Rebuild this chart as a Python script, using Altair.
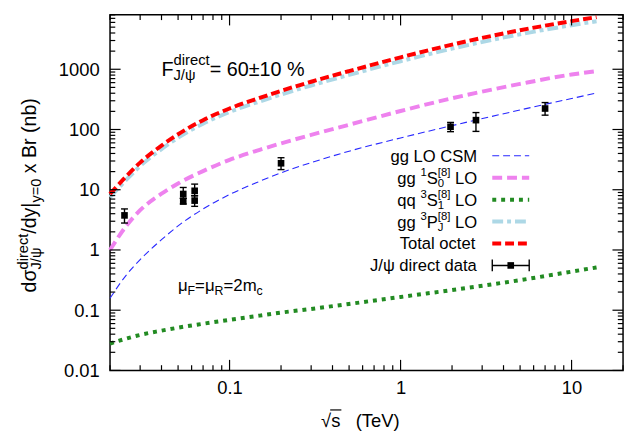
import altair as alt
import pandas as pd

FONT = "Liberation Sans"
W_PLOT = 519.4
H_PLOT = 360.0

# ---------------- data ----------------
x_grid = [0.02, 0.025, 0.03, 0.04, 0.05, 0.07, 0.1, 0.15, 0.2, 0.3, 0.5, 1, 2, 5, 10, 14]
csm_lo = [0.158, 0.389, 0.692, 1.48, 2.51, 4.79, 8.32, 13.8, 19.1, 28.2, 43.6, 72.4, 116, 211, 327, 403]
s0_lo = [1.0, 2.55, 4.57, 8.6, 12.7, 20.4, 31.3, 46, 58.8, 81.3, 120, 203, 330, 571, 818, 930]
s1_lo = [0.0279, 0.0339, 0.0389, 0.0457, 0.0513, 0.0596, 0.0692, 0.0813, 0.0912, 0.105, 0.127, 0.166, 0.216, 0.316, 0.437, 0.513]
pj_lo = [7.5, 14.8, 24.7, 47.3, 73, 125, 195, 292, 381, 538, 806, 1360, 2200, 3810, 5390, 6270]
total_octet = [8.5, 16.9, 28.2, 54, 83.4, 143, 223, 335, 438, 620, 932, 1578, 2564, 4446, 6295, 7330]

data_x = [0.0243, 0.0536, 0.0536, 0.0625, 0.0625, 0.2, 1.96, 2.76, 7.0]
data_y = [3.75, 8.5, 6.4, 9.6, 6.6, 27.5, 111, 143, 223]
data_lo = [2.8, 7.2, 5.8, 8.0, 5.3, 21.6, 92, 93, 173]
data_hi = [4.8, 10.9, 7.2, 12.4, 7.9, 34, 131, 191, 280]

x_major = [0.1, 1, 10]
y_major = [0.01, 0.1, 1, 10, 100, 1000]
mult = [2, 3, 4, 5, 6, 7, 8, 9]
x_minor = [m * 10.0 ** e for e in (-2, -1, 0) for m in mult] + [20]
y_minor = [m * 10.0 ** e for e in (-2, -1, 0, 1, 2, 3) for m in mult if m * 10.0 ** e <= 8000]

xs = alt.Scale(type="log", domain=[0.02, 20], nice=False)
ys = alt.Scale(type="log", domain=[0.01, 8000], nice=False)

one = pd.DataFrame({"k": [0]})

# ---------------- text metrics (Arial / Liberation Sans) ----------------
CW = {' ': .278, '%': .889, '(': .333, ')': .333, '/': .278, '=': .584, '[': .278, ']': .278,
      '|': .26, '±': .584, 'A': .667, 'B': .667, 'C': .722, 'F': .611, 'J': .5, 'L': .556,
      'M': .833, 'O': .778, 'P': .667, 'R': .722, 'S': .667, 'T': .611, 'V': .667,
      'a': .556, 'b': .556, 'c': .5, 'd': .556, 'e': .556, 'g': .556, 'i': .222, 'l': .222,
      'm': .833, 'n': .556, 'o': .556, 'q': .556, 'r': .333, 's': .5, 't': .278, 'x': .5,
      'y': .5, 'σ': .62, 'ψ': .73, 'μ': .576, '√': .549}


def tw(s, size):
    return sum(CW.get(c, 0.556) for c in s) * size


def layout(items):
    out, pos = [], 0.0
    for it in items:
        if it[0] == "t":
            _, text, sz, r = it
            out.append((pos, r, text, sz))
            pos += tw(text, sz)
        else:
            _, sup, sub, sz, r, d = it
            out.append((pos, r, sup, sz))
            out.append((pos, -d, sub, sz))
            pos += max(tw(sup, sz), tw(sub, sz))
    return out, pos


def txt(text, x, y, size, angle=0):
    lead = len(text) - len(text.lstrip(" "))
    off = lead * CW[" "] * size
    text = text.strip(" ")
    if angle == 270:
        y -= off
    else:
        x += off
    return alt.Chart(one).mark_text(
        text=text, font=FONT, fontSize=size, align="left", baseline="alphabetic",
        angle=angle, color="black"
    ).encode(x=alt.value(x), y=alt.value(y))


def hrun(items, x0, base):
    out, _ = layout(items)
    return [txt(t, x0 + dx, base - r, sz) for dx, r, t, sz in out]


layers = []

# ---------------- axes (identical in every layer so they merge) ----------------
ax_x = alt.Axis(values=x_major, format="~g", title=None, ticks=False, tickSize=0, domain=False,
                grid=False, labelFont=FONT, labelFontSize=18.6, labelColor="black",
                labelPadding=8, labelOverlap=False, labelFlush=False)
ax_y = alt.Axis(values=y_major, format="~g", title=None, ticks=False, tickSize=0, domain=False,
                grid=False, labelFont=FONT, labelFontSize=18.6, labelColor="black",
                labelPadding=11, labelOverlap=False, labelFlush=False)


def X(field):
    return alt.X(field, scale=xs, axis=ax_x)


def Y(field):
    return alt.Y(field, scale=ys, axis=ax_y)


def curve(vals, color, width, dash):
    df = pd.DataFrame({"x": x_grid, "y": vals})
    return alt.Chart(df).mark_line(
        color=color, strokeWidth=width, strokeDash=dash, interpolate="monotone", strokeCap="butt"
    ).encode(x=X("x:Q"), y=Y("y:Q"))


STY = {
    "csm": ("#2828ff", 1.1, [7, 4]),
    "s0": ("#ee82ee", 4, [10, 5]),
    "s1": ("#228b22", 4, [4, 5]),
    "pj": ("#add8e6", 4, [11, 4, 4, 4]),
    "tot": ("#ff0000", 4, [9, 4]),
}

layers.append(curve(csm_lo, *STY["csm"]))
layers.append(curve(s0_lo, *STY["s0"]))
layers.append(curve(s1_lo, *STY["s1"]))
layers.append(curve(pj_lo, *STY["pj"]))
layers.append(curve(total_octet, *STY["tot"]))

# ---------------- data points ----------------
pts = pd.DataFrame({"x": data_x, "y": data_y, "lo": data_lo, "hi": data_hi})
layers.append(alt.Chart(pts).mark_rule(color="black", strokeWidth=1.4).encode(
    x=X("x:Q"), y=Y("lo:Q"), y2="hi:Q"))
for col in ("lo", "hi"):
    layers.append(alt.Chart(pts).mark_tick(color="black", orient="horizontal", size=7,
                                           thickness=1.4, opacity=1).encode(
        x=X("x:Q"), y=Y(col + ":Q")))
layers.append(alt.Chart(pts).mark_square(color="black", size=45, opacity=1).encode(
    x=X("x:Q"), y=Y("y:Q")))


# ---------------- inward ticks on all four sides ----------------
def tick_rules(vals, side, length):
    df = pd.DataFrame({"v": vals})
    base = alt.Chart(df).mark_rule(color="black", strokeWidth=1.2)
    if side == "bottom":
        return base.encode(x=X("v:Q"), y=alt.value(H_PLOT), y2=alt.value(H_PLOT - length))
    if side == "top":
        return base.encode(x=X("v:Q"), y=alt.value(0), y2=alt.value(length))
    if side == "left":
        return base.encode(y=Y("v:Q"), x=alt.value(0), x2=alt.value(length))
    return base.encode(y=Y("v:Q"), x=alt.value(W_PLOT), x2=alt.value(W_PLOT - length))


for side in ("bottom", "top"):
    layers.append(tick_rules(x_major, side, 10.7))
    layers.append(tick_rules(x_minor, side, 5.3))
for side in ("left", "right"):
    layers.append(tick_rules(y_major, side, 10.7))
    layers.append(tick_rules(y_minor, side, 5.3))

# ---------------- legend ----------------
LF, LS = 16.8, 11.5
R = 371.7
row_y = [142.7 + 22.2 * i for i in range(6)]
rows = [
    [("t", "gg LO CSM", LF, 0)],
    [("t", "gg ", LF, 0), ("t", "1", LS, 8), ("t", "S", LF, 0), ("s", "[8]", "0", LS, 8, 3.5), ("t", " LO", LF, 0)],
    [("t", "qq ", LF, 0), ("t", "3", LS, 8), ("t", "S", LF, 0), ("s", "[8]", "1", LS, 8, 3.5), ("t", " LO", LF, 0)],
    [("t", "gg ", LF, 0), ("t", "3", LS, 8), ("t", "P", LF, 0), ("s", "[8]", "J", LS, 8, 3.5), ("t", " LO", LF, 0)],
    [("t", "Total octet", LF, 0)],
    [("t", "J/ψ direct data", LF, 0)],
]
for items, yc in zip(rows, row_y):
    _, total = layout(items)
    layers += hrun(items, R - total, yc + 0.36 * LF)

LX0, LX1 = 387.0, 424.4
for key, yc in zip(["csm", "s0", "s1", "pj", "tot"], row_y[:5]):
    color, width, dash = STY[key]
    layers.append(alt.Chart(one).mark_rule(color=color, strokeWidth=width, strokeDash=dash, strokeCap="butt").encode(
        x=alt.value(LX0), x2=alt.value(LX1), y=alt.value(yc)))
ye = row_y[5]
layers.append(alt.Chart(one).mark_rule(color="black", strokeWidth=1.4).encode(
    x=alt.value(LX0), x2=alt.value(LX1), y=alt.value(ye)))
for xe in (LX0, LX1):
    layers.append(alt.Chart(one).mark_rule(color="black", strokeWidth=1.4).encode(
        x=alt.value(xe), y=alt.value(ye - 6), y2=alt.value(ye + 6)))
layers.append(alt.Chart(one).mark_square(color="black", size=45, opacity=1).encode(
    x=alt.value((LX0 + LX1) / 2), y=alt.value(ye)))

# ---------------- annotations ----------------
AF, AS = 20, 15
layers += hrun([("t", "F", AF, 0), ("s", "direct", "J/ψ", AS, 11, 4.5), ("t", "= 60±10 %", AF, 0)], 52, 61.7)
MF, MS = 17, 12.5
layers += hrun([("t", "μ", MF, 0), ("t", "F", MS, -4), ("t", "=μ", MF, 0), ("t", "R", MS, -4),
                ("t", "=2m", MF, 0), ("t", "c", MS, -4)], 68.7, 279.7)

# y-axis title (rotated)
YF, YS = 19.8, 14.8
ytitle = [("t", "dσ", YF, 0), ("s", "direct", "J/ψ", YS, 8.5, 4.5), ("t", "/dy|", YF, 0),
          ("t", "y=0", YS, -4.5), ("t", " x Br (nb)", YF, 0)]
out, total = layout(ytitle)
y0 = 182.7 + total / 2
bx = -74.6
for dx, r, t, sz in out:
    layers.append(txt(t, bx - r, y0 - dx, sz, angle=270))

# x-axis title
XF = 18.6
layers.append(txt("√", 213.7, 417, XF))
layers.append(txt("s", 213.7 + tw("√", XF), 417, XF))
layers.append(txt("(TeV)", 248.7, 417, XF))
layers.append(alt.Chart(one).mark_rule(color="black", strokeWidth=1.2).encode(
    x=alt.value(213.7 + tw("√", XF) - 1), x2=alt.value(213.7 + tw("√s", XF) + 1), y=alt.value(400)))

chart = alt.layer(*layers).properties(
    width=W_PLOT, height=H_PLOT,
    autosize=alt.AutoSizeParams(type="none"),
    padding={"left": 103.3, "top": 4.3, "right": 4, "bottom": 62},
).configure_view(stroke="black", strokeWidth=1.5)

chart.save("out.html", embed_options={"renderer": "svg", "actions": False})
